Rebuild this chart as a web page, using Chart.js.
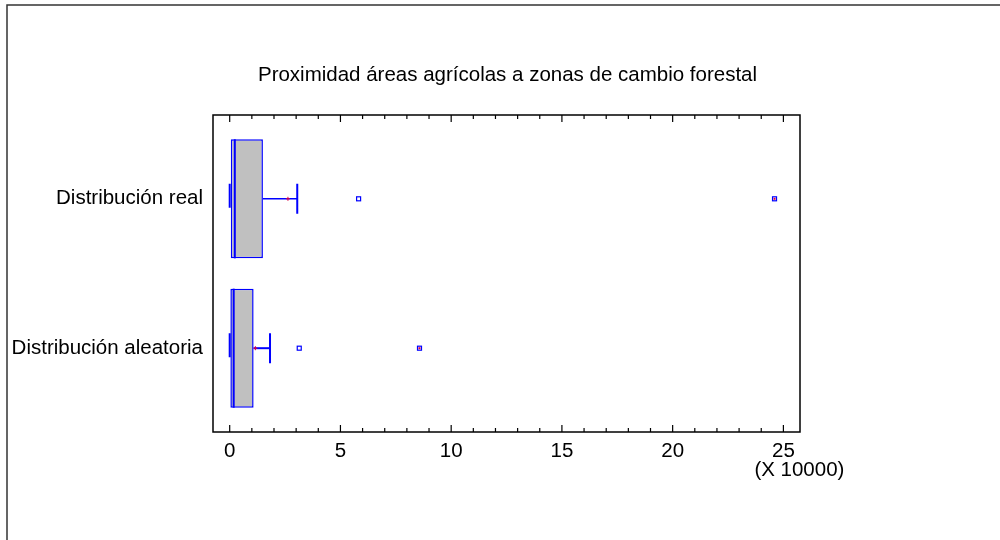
<!DOCTYPE html>
<html>
<head>
<meta charset="utf-8">
<script src="https://cdn.jsdelivr.net/npm/chart.js@4.4.1/dist/chart.umd.min.js"></script>
<style>
  html, body { margin: 0; padding: 0; background: #fff; }
  #wrap { width: 1000px; height: 540px; }
</style>
</head>
<body>
<div id="wrap"><canvas id="chart"></canvas></div>
<script>
// values in units of 10000
const categories = ["Distribución real", "Distribución aleatoria"];
const mins = [0.0, 0.0];
const q1s = [0.05, 0.03];
const medians = [0.23, 0.18];
const q3s = [1.50, 1.08];
const whiskerMax = [3.05, 1.82];
const means = [2.63, 1.16];
const outliers = [[5.82], [3.14]];
const farOutliers = [[24.6], [8.57]];
const xTicks = [0, 5, 10, 15, 20, 25];

const titleText = "Proximidad áreas agrícolas a zonas de cambio forestal";
const scaleNote = "(X 10000)";
const fontFamily = "'Liberation Sans', Arial, sans-serif";
const fontSize = 20.5;
const blue = "#0000FF";
const red = "#E0003C";

const boxData = categories.map((c, i) => ({y: i, x: [q1s[i], q3s[i]]}));

const boxPlotPlugin = {
  id: "boxPlot",
  beforeDraw(chart) {
    const ctx = chart.ctx;
    ctx.save();
    ctx.strokeStyle = "#333";
    ctx.lineWidth = 1.5;
    ctx.beginPath();
    ctx.moveTo(7, 540);
    ctx.lineTo(7, 5);
    ctx.lineTo(1000, 5);
    ctx.stroke();
    ctx.restore();
  },
  afterDatasetsDraw(chart) {
    const ctx = chart.ctx;
    const xs = chart.scales.x;
    const ys = chart.scales.y;
    const area = chart.chartArea;
    ctx.save();

    categories.forEach((c, i) => {
      const yc = ys.getPixelForValue(i);
      const box = chart.getDatasetMeta(0).data[i];
      const half = box.height / 2;

      // median
      ctx.strokeStyle = blue;
      ctx.lineWidth = 2;
      ctx.beginPath();
      ctx.moveTo(xs.getPixelForValue(medians[i]), yc - half);
      ctx.lineTo(xs.getPixelForValue(medians[i]), yc + half);
      ctx.stroke();

      // whiskers
      ctx.lineWidth = i === 0 ? 1.5 : 2;
      ctx.beginPath();
      ctx.moveTo(xs.getPixelForValue(q3s[i]), yc);
      ctx.lineTo(xs.getPixelForValue(whiskerMax[i]), yc);
      ctx.stroke();
      ctx.lineWidth = 2;
      ctx.beginPath();
      ctx.moveTo(xs.getPixelForValue(whiskerMax[i]), yc - 15);
      ctx.lineTo(xs.getPixelForValue(whiskerMax[i]), yc + 15);
      ctx.moveTo(xs.getPixelForValue(mins[i]), yc - 15);
      ctx.lineTo(xs.getPixelForValue(mins[i]), yc + 9);
      ctx.stroke();

      // mean
      const mx = xs.getPixelForValue(means[i]);
      ctx.strokeStyle = red;
      ctx.lineWidth = 1;
      ctx.beginPath();
      ctx.moveTo(mx - 2, yc);
      ctx.lineTo(mx + 2, yc);
      ctx.moveTo(mx, yc - 2);
      ctx.lineTo(mx, yc + 2);
      ctx.stroke();

      // outside points
      ctx.strokeStyle = blue;
      ctx.lineWidth = 1.2;
      outliers[i].forEach(v => {
        const px = xs.getPixelForValue(v);
        ctx.strokeRect(px - 2, yc - 2, 4, 4);
      });
      farOutliers[i].forEach(v => {
        const px = xs.getPixelForValue(v);
        ctx.strokeStyle = blue;
        ctx.lineWidth = 1.2;
        ctx.strokeRect(px - 2, yc - 2, 4, 4);
        ctx.fillStyle = red;
        ctx.fillRect(px - 1, yc - 1, 2, 2);
      });
    });

    // plot frame and inward ticks
    ctx.strokeStyle = "#000";
    ctx.lineWidth = 1.5;
    ctx.strokeRect(area.left, area.top, area.right - area.left, area.bottom - area.top);
    ctx.lineWidth = 1.2;
    ctx.beginPath();
    for (let v = 0; v <= 25; v++) {
      const px = xs.getPixelForValue(v);
      const len = v % 5 === 0 ? 7 : 4;
      ctx.moveTo(px, area.bottom);
      ctx.lineTo(px, area.bottom - len);
      ctx.moveTo(px, area.top);
      ctx.lineTo(px, area.top + len);
    }
    ctx.stroke();

    // title and scale note
    ctx.fillStyle = "#000";
    ctx.font = fontSize + "px " + fontFamily;
    ctx.textAlign = "center";
    ctx.textBaseline = "middle";
    ctx.fillText(titleText, (area.left + area.right) / 2 + 1, 75);
    ctx.fillText(scaleNote, xs.getPixelForValue(25) + 16, 470);
    ctx.restore();
  },
};

new Chart(document.getElementById("chart"), {
  type: "bar",
  data: {
    datasets: [{
      data: boxData,
      backgroundColor: "#C0C0C0",
      borderColor: blue,
      borderWidth: 1.5,
      borderSkipped: false,
      barPercentage: 0.797,
      categoryPercentage: 1,
    }],
  },
  options: {
    indexAxis: "y",
    responsive: true,
    maintainAspectRatio: false,
    animation: false,
    layout: {padding: {left: 0, top: 115, right: 200, bottom: 0}},
    plugins: {legend: {display: false}, tooltip: {enabled: false}},
    scales: {
      x: {
        type: "linear",
        min: -0.754,
        max: 25.75,
        grid: {display: false, drawTicks: false},
        border: {display: false},
        afterBuildTicks: scale => { scale.ticks = xTicks.map(v => ({value: v})); },
        afterFit: scale => { scale.height = 108; },
        ticks: {color: "#000", font: {family: fontFamily, size: fontSize}, padding: 7, maxRotation: 0},
      },
      y: {
        type: "linear",
        reverse: true,
        offset: false,
        min: -0.561,
        max: 1.561,
        grid: {display: false, drawTicks: false, offset: false},
        border: {display: false},
        afterBuildTicks: scale => { scale.ticks = categories.map((c, i) => ({value: i})); },
        afterFit: scale => { scale.width = 213; },
        ticks: {
          color: "#000",
          font: {family: fontFamily, size: fontSize},
          padding: 10,
          callback: v => categories[v] ?? "",
        },
      },
    },
  },
  plugins: [boxPlotPlugin],
});
</script>
</body>
</html>
